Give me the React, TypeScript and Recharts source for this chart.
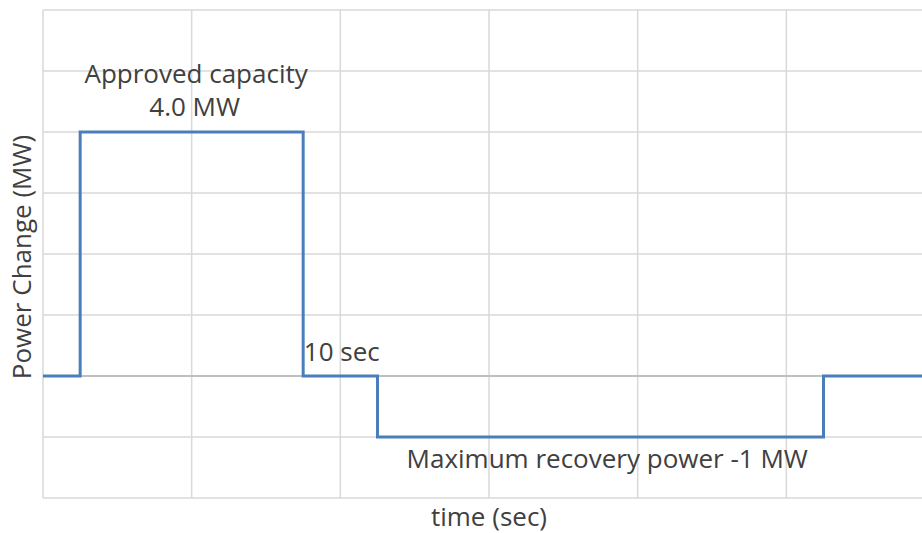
import {
  LineChart,
  Line,
  XAxis,
  YAxis,
  CartesianGrid,
  ReferenceLine,
  ReferenceDot
} from "recharts";

// step profile: time (sec) -> power change (MW)
const times = [0, 5, 35, 45, 105, 120];
const power = [0, 4, 0, -1, 0, 0];

const xTicks = [0, 20, 40, 60, 80, 100, 120];
const yTicks = [-2, -1, 0, 1, 2, 3, 4, 5, 6];

// annotation anchors in data units
const notes = [
  { x: 20.6, y: 4.96, text: "Approved capacity" },
  { x: 20.4, y: 4.42, text: "4.0 MW" },
  { x: 40.2, y: 0.39, text: "10 sec" },
  { x: 75.9, y: -1.36, text: "Maximum recovery power -1 MW" }
];

const data = times.map((t, i) => ({ t, p: power[i] }));

const FONT = "'Open Sans', sans-serif";
const TEXT = "#404040";
const SIZE = 26;

function XTitle({ viewBox }: any) {
  const { x, y, width } = viewBox;
  return (
    <text x={x + width / 2} y={y + 28} textAnchor="middle" fill={TEXT} fontSize={SIZE} fontFamily={FONT}>
      time (sec)
    </text>
  );
}

function YTitle({ viewBox }: any) {
  const { x, y, height } = viewBox;
  const cx = x + 31;
  const cy = y + height / 2 + 3;
  return (
    <text x={cx} y={cy} transform={`rotate(-90 ${cx} ${cy})`} textAnchor="middle" fill={TEXT} fontSize={SIZE} fontFamily={FONT}>
      Power Change (MW)
    </text>
  );
}

export default function App() {
  return (
    <div style={{ position: "absolute", left: 0, top: 0, width: 922, height: 533, background: "#fff" }}>
      <LineChart width={922} height={533} data={data} margin={{ top: 10, right: -13, left: 0, bottom: 0 }}>
        <CartesianGrid stroke="#d9d9d9" strokeWidth={1.5} />
        <XAxis
          dataKey="t"
          type="number"
          domain={[0, 120]}
          ticks={xTicks}
          tickFormatter={() => ""}
          tickLine={false}
          axisLine={false}
          height={35}
          label={{ content: XTitle }}
        />
        <YAxis
          type="number"
          domain={[-2, 6]}
          ticks={yTicks}
          tickFormatter={() => ""}
          tickLine={false}
          axisLine={false}
          width={43}
          label={{ content: YTitle }}
        />
        <ReferenceLine y={0} stroke="#bfbfbf" strokeWidth={2} />
        <Line
          type="stepAfter"
          dataKey="p"
          stroke="#4a7ebb"
          strokeWidth={3}
          dot={false}
          isAnimationActive={false}
        />
        {notes.map((n) => (
          <ReferenceDot
            key={n.text}
            x={n.x}
            y={n.y}
            r={0}
            stroke="none"
            fill="none"
            label={{ value: n.text, position: "center", fill: TEXT, fontSize: SIZE, fontFamily: FONT }}
          />
        ))}
      </LineChart>
    </div>
  );
}
